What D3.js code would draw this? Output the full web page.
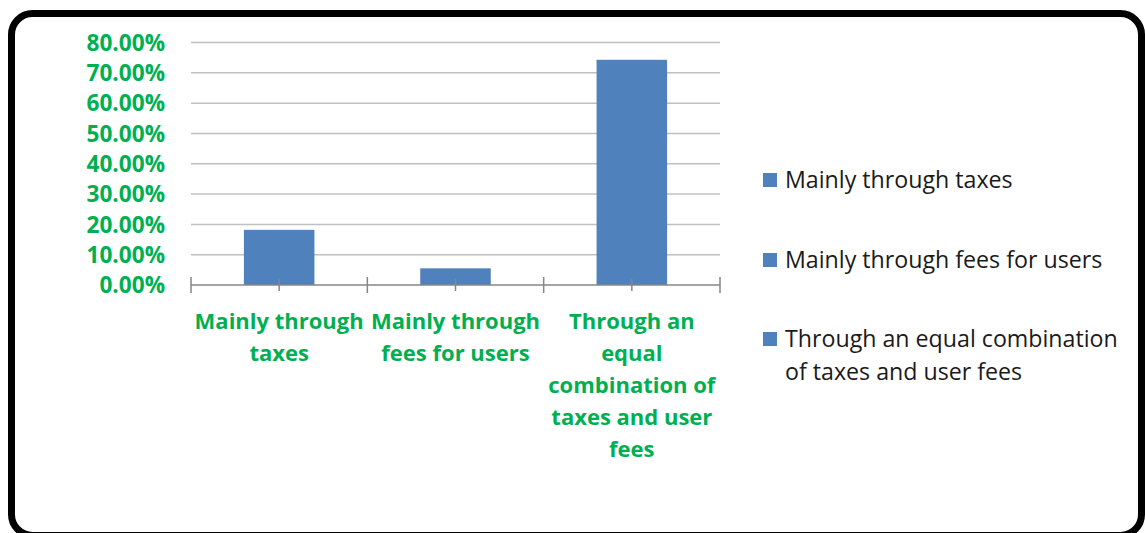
<!DOCTYPE html>
<html><head><meta charset="utf-8">
<script src="https://cdn.jsdelivr.net/npm/d3@7/dist/d3.min.js"></script>
<style>body{margin:0;background:#fff;}svg{display:block;}</style>
</head><body>
<svg id="c" width="1145" height="533"></svg>
<script>
const categories = ["Mainly through taxes", "Mainly through fees for users", "Through an equal combination of taxes and user fees"];
const values = [0.182, 0.055, 0.743];
const categoryLabelLines = [["Mainly through", "taxes"], ["Mainly through", "fees for users"], ["Through an", "equal", "combination of", "taxes and user", "fees"]];
const legendLabelLines = [["Mainly through taxes"], ["Mainly through fees for users"], ["Through an equal combination", "of taxes and user fees"]];
const yTicks = [0, 0.1, 0.2, 0.3, 0.4, 0.5, 0.6, 0.7, 0.8];

const svg = d3.select("#c");
const green = "#00B050", barColor = "#4F81BD";
const font = "'Open Sans', 'Liberation Sans', sans-serif";

svg.append("rect").attr("x", 11.5).attr("y", 13.5).attr("width", 1130).attr("height", 522)
  .attr("rx", 21).attr("fill", "#fff").attr("stroke", "#000").attr("stroke-width", 7);

const x = d3.scaleBand().domain(categories).range([191, 720]).padding(0);
const y = d3.scaleLinear().domain([0, 0.8]).range([285, 42.5]);

// gridlines
svg.append("g").selectAll("line").data(yTicks.filter(d => d > 0)).join("line")
  .attr("x1", 191).attr("x2", 720).attr("y1", d => y(d)).attr("y2", d => y(d))
  .attr("stroke", "#C0C0C0").attr("stroke-width", 1.5);

// y labels
svg.append("g").selectAll("text").data(yTicks).join("text")
  .attr("x", 165).attr("y", d => y(d)).attr("dy", "0.36em").attr("text-anchor", "end")
  .attr("font-family", font).attr("font-weight", "bold").attr("font-size", 22.6).attr("fill", green)
  .text(d => d3.format(".2%")(d));

// bars
const bw = x.bandwidth() * 0.4;
svg.append("g").selectAll("rect").data(categories).join("rect")
  .attr("x", d => x(d) + x.bandwidth() / 2 - bw / 2).attr("width", bw)
  .attr("y", (d, i) => y(values[i])).attr("height", (d, i) => y(0) - y(values[i]))
  .attr("fill", barColor);

// x axis line and ticks
const axisG = svg.append("g").attr("stroke", "#868686").attr("stroke-width", 1.5);
axisG.append("line").attr("x1", 191).attr("x2", 720).attr("y1", y(0)).attr("y2", y(0));
const boundaries = categories.map(d => x(d)).concat([x.range()[1]]);
axisG.selectAll(".tb").data(boundaries).join("line").attr("class", "tb")
  .attr("x1", d => d).attr("x2", d => d).attr("y1", y(0) - 8).attr("y2", y(0) + 8);
axisG.selectAll(".tc").data(categories).join("line").attr("class", "tc")
  .attr("x1", d => x(d) + x.bandwidth() / 2).attr("x2", d => x(d) + x.bandwidth() / 2)
  .attr("y1", y(0) - 6).attr("y2", y(0) + 6);

// x labels
const xl = svg.append("g").selectAll("text").data(categories).join("text")
  .attr("text-anchor", "middle").attr("font-family", font).attr("font-weight", "bold")
  .attr("font-size", 22).attr("fill", green);
xl.each(function(d, i) {
  d3.select(this).selectAll("tspan").data(categoryLabelLines[i]).join("tspan")
    .attr("x", x(d) + x.bandwidth() / 2).attr("y", (t, j) => 329 + j * 32).text(t => t);
});

// legend
const legendY = [188, 268, 347];
const lg = svg.append("g").selectAll("g").data(categories).join("g");
lg.append("rect").attr("x", 763).attr("y", (d, i) => legendY[i] - 15).attr("width", 14).attr("height", 14).attr("fill", barColor);
lg.append("text").attr("font-family", font).attr("font-size", 23.2).attr("fill", "#1a1a1a")
  .each(function(d, i) {
    d3.select(this).selectAll("tspan").data(legendLabelLines[i]).join("tspan")
      .attr("x", 785).attr("y", (t, j) => legendY[i] + j * 33).text(t => t);
  });
</script>
</body></html>
